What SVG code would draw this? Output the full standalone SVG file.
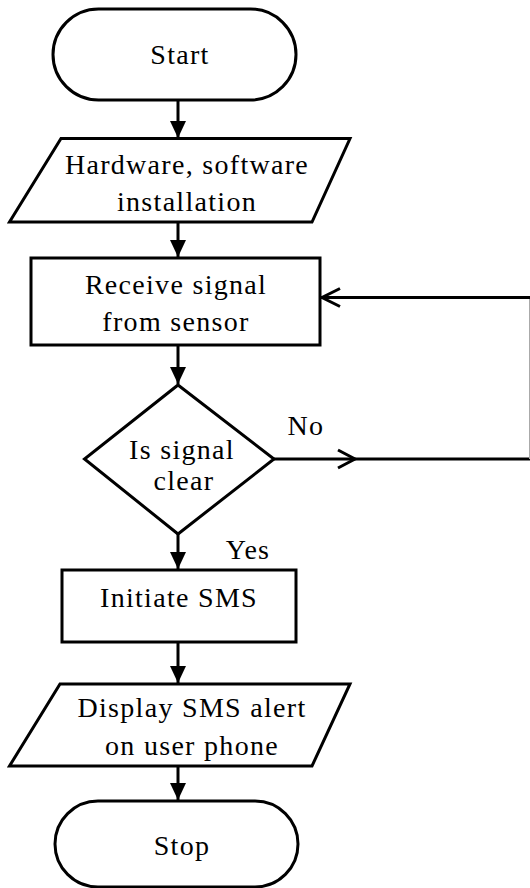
<svg xmlns="http://www.w3.org/2000/svg" width="530" height="888" viewBox="0 0 530 888">
  <style>
    .shape { fill: #fff; stroke: #000; stroke-width: 3; stroke-linejoin: miter; }
    .lbl { font-family: "Liberation Serif", "Times New Roman", serif; font-size: 28px; fill: #000; text-anchor: middle; letter-spacing: 1.3px; }
    .edge { fill: none; stroke: #000; stroke-width: 3; }
    .chev { fill: none; stroke: #000; stroke-width: 3; stroke-linecap: butt; stroke-linejoin: miter; }
  </style>
  <defs>
    <marker id="tri" markerUnits="userSpaceOnUse" markerWidth="18" markerHeight="18" viewBox="0 0 18 18" refX="17" refY="9" orient="auto">
      <path d="M0,1 L17,9 L0,17 Z" fill="#000"/>
    </marker>
  </defs>
  <rect width="530" height="888" fill="#fff"/>

  <!-- connectors -->
  <g id="connectors">
    <line class="edge" x1="178" y1="100" x2="178" y2="138" marker-end="url(#tri)"/>
    <line class="edge" x1="178" y1="222" x2="178" y2="257" marker-end="url(#tri)"/>
    <line class="edge" x1="178" y1="345" x2="178" y2="384" marker-end="url(#tri)"/>
    <line class="edge" x1="178" y1="534" x2="178" y2="569" marker-end="url(#tri)"/>
    <line class="edge" x1="178" y1="642" x2="178" y2="683" marker-end="url(#tri)"/>
    <line class="edge" x1="178" y1="766" x2="178" y2="800" marker-end="url(#tri)"/>
    <!-- "No" branch loops back to the receive step -->
    <line class="edge" x1="274" y1="459" x2="530" y2="459"/>
    <path class="chev" d="M338,450 L355,459 L338,468"/>
    <line x1="529.5" y1="297" x2="529.5" y2="459" stroke="#aaa" stroke-width="1"/>
    <line class="edge" x1="320" y1="297.5" x2="530" y2="297.5"/>
    <path class="chev" d="M340,288.5 L322,297.5 L340,306.5"/>
    <text class="lbl" x="306" y="435">No</text>
    <text class="lbl" x="248" y="559">Yes</text>
  </g>

  <g id="start">
    <rect class="shape" x="53" y="9" width="243" height="91" rx="45.5" ry="45.5"/>
    <text class="lbl" x="180" y="64">Start</text>
  </g>

  <g id="install">
    <polygon class="shape" points="61,138.5 350,138.5 312,222 9.5,222"/>
    <text class="lbl" x="187" y="174">Hardware, software</text>
    <text class="lbl" x="187" y="211">installation</text>
  </g>

  <g id="receive">
    <rect class="shape" x="31" y="258" width="289" height="87"/>
    <text class="lbl" x="176" y="294">Receive signal</text>
    <text class="lbl" x="176" y="331">from sensor</text>
  </g>

  <g id="decision">
    <polygon class="shape" points="178,385 274,459 178,534 84.5,459"/>
    <text class="lbl" x="182" y="459">Is signal</text>
    <text class="lbl" x="184" y="490">clear</text>
  </g>

  <g id="initiate">
    <rect class="shape" x="62" y="570" width="234" height="72"/>
    <text class="lbl" x="179" y="607">Initiate SMS</text>
  </g>

  <g id="display">
    <polygon class="shape" points="60,684 350,684 312,766 9.5,766"/>
    <text class="lbl" x="192" y="717">Display SMS alert</text>
    <text class="lbl" x="192" y="755">on user phone</text>
  </g>

  <g id="stop">
    <rect class="shape" x="55" y="801" width="243" height="86" rx="43" ry="43"/>
    <text class="lbl" x="182" y="855">Stop</text>
  </g>
</svg>
